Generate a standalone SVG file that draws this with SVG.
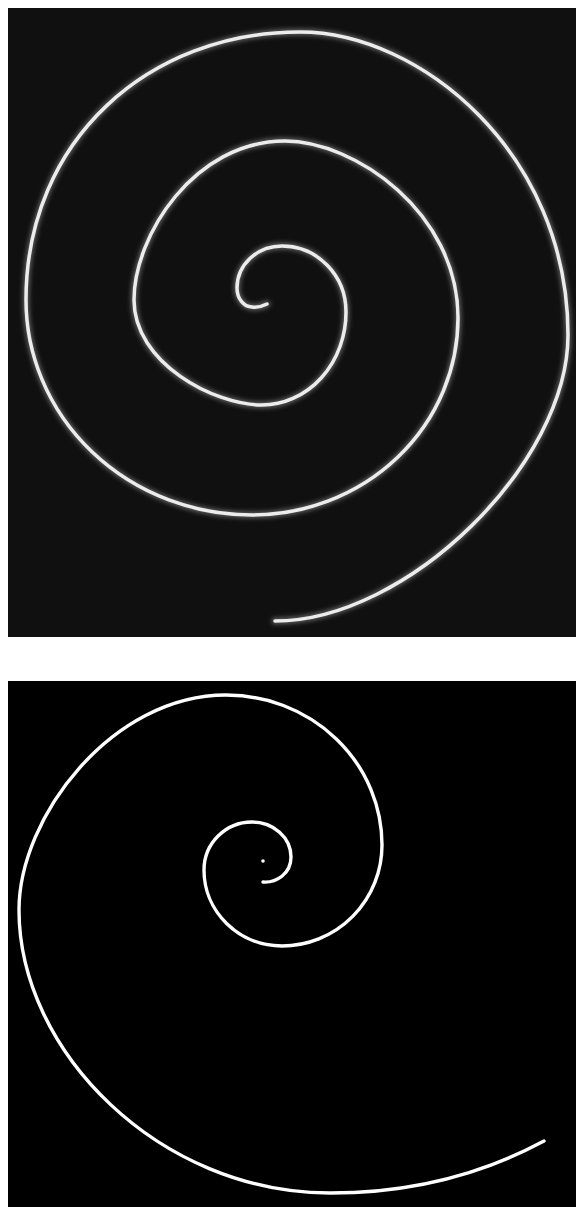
<svg xmlns="http://www.w3.org/2000/svg" width="576" height="1207" viewBox="0 0 576 1207">
  <style>
    .top-glow { fill: none; stroke: #ffffff; stroke-opacity: 0.3; stroke-width: 7; stroke-linecap: round; }
    .top-line { fill: none; stroke: #ececec; stroke-width: 3.5; stroke-linecap: round; }
    .bot-line { fill: none; stroke: #ffffff; stroke-width: 3.4; stroke-linecap: round; }
  </style>
  <defs>
    <filter id="soft" x="-5%" y="-5%" width="110%" height="110%">
      <feGaussianBlur stdDeviation="2"/>
    </filter>
    <filter id="slight" x="-5%" y="-5%" width="110%" height="110%">
      <feGaussianBlur stdDeviation="0.5"/>
    </filter>
    <path id="top-path" d="M 267 304 Q 259 308 252 307 A 15 19 0 0 1 237 288 A 45 42 0 0 1 282 246 A 64 66 0 0 1 346 312 A 84 93 0 0 1 262 405 C 214 405 134 363 134 300 C 134 236 194 141 285 141 C 354 141 458 212 458 318 A 206 197 0 0 1 252 515 A 226 215 0 0 1 26 300 C 26 139 150 32 300 32 C 420 32 568 153 568 335 C 568 464 407 621 275 621"/>
  </defs>
  <rect x="0" y="0" width="576" height="1207" fill="#ffffff"/>
  <g id="top-panel">
    <rect x="8" y="8" width="568" height="629" fill="#101010"/>
    <g id="top-spiral">
      <use href="#top-path" class="top-glow" filter="url(#soft)"/>
      <use href="#top-path" class="top-line" filter="url(#slight)"/>
    </g>
  </g>
  <g id="bottom-panel">
    <rect x="8" y="681" width="568" height="526" fill="#000000"/>
    <g id="bottom-spiral" filter="url(#slight)">
      <circle cx="263" cy="861" r="1.8" fill="#ffffff"/>
      <path class="bot-line" d="M 263 882 C 276 883 291 874 291 857 A 39 35 0 0 0 252 822 A 48 48 0 0 0 204 870 A 78 76 0 0 0 282 946 A 100 101 0 0 0 382 845 A 156 150 0 0 0 226 695 C 112 695 19 817 19 910 C 19 1051 159 1193 330 1193 C 420 1193 490 1170 544 1141"/>
    </g>
  </g>
</svg>
